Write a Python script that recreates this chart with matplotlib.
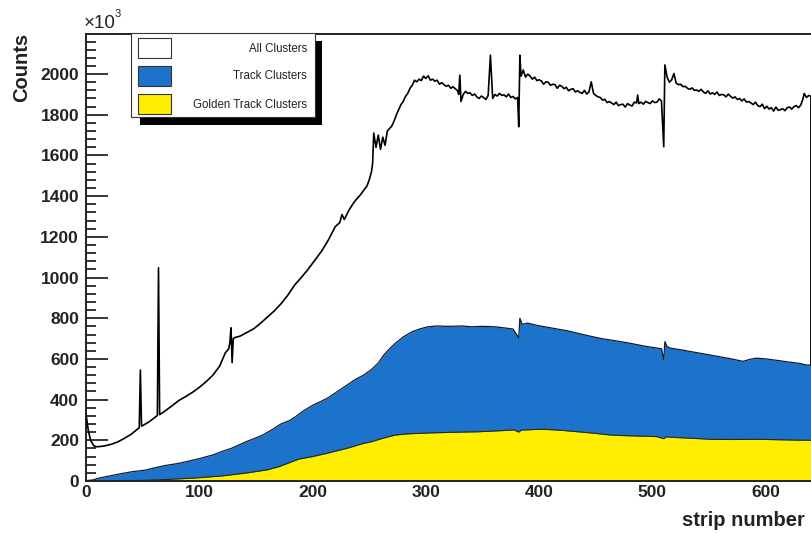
import matplotlib
matplotlib.use("Agg")
import matplotlib.pyplot as plt
from matplotlib.patches import Rectangle
from matplotlib.ticker import MultipleLocator

plt.rcParams["font.family"] = ["Liberation Sans", "DejaVu Sans"]

# ---- cluster counts per strip (units of 10^3) ----
all_strip = [0, 2, 4, 7, 10, 16, 22, 28, 34, 40, 46, 47, 48, 49, 50, 56, 62, 63, 64, 65,
             70, 76, 82, 88, 94, 100, 106, 112, 118, 123, 126, 127, 128, 129, 130, 132,
             136, 142, 148, 154, 160, 166, 172, 178, 184, 190, 196, 202, 208, 214, 220,
             224, 226, 228, 232, 236, 238, 242, 244, 248, 250, 252, 253, 254, 256, 258,
             260, 262, 264, 266, 270, 272, 274, 276, 278, 280, 282, 284, 286, 288,
             290, 292, 294, 296, 298, 300, 302, 304, 306, 308,
             310, 312, 314, 316, 318, 320, 322, 324, 326, 328,
             329, 330, 331,
             333, 335, 337, 339, 341, 343, 345, 347, 349, 351,
             353, 355, 357, 359, 361, 363, 365, 367, 369, 371,
             373, 375, 377, 379, 381,
             382, 383,
             384, 386, 388, 390, 392, 394, 396, 398, 400, 402,
             404, 406, 408, 410, 412, 414, 416, 418, 420, 422,
             424, 426, 428, 430, 432, 434, 436, 438, 440, 442,
             444, 446, 448, 450, 452, 454, 456, 458, 460, 462,
             464, 466, 468, 470, 472, 474, 476, 478, 480, 482,
             484, 486, 487, 488, 490, 492, 494, 496, 498, 500,
             502, 504, 506, 508, 510, 511,
             513, 515, 517, 519, 521, 523, 525, 527, 529, 531,
             533, 535, 537, 539, 541, 543, 545, 547, 549, 551,
             553, 555, 557, 559, 561, 563, 565, 567, 569, 571,
             573, 575, 577, 579, 581, 583, 585, 587, 589, 591,
             593, 595, 597, 599, 601, 603, 605, 607, 609, 611,
             613, 615, 617, 619, 621, 623, 625, 627, 629, 631,
             633, 634, 636, 638, 640]
all_counts = [330, 250, 200, 172, 168, 172, 180, 192, 210, 230, 258, 262, 545, 270, 272, 292,
              318, 322, 1048, 326, 345, 370, 396, 415, 436, 460, 488, 520, 565, 630, 650, 680,
              753, 582, 700, 706, 712, 730, 748, 775, 805, 835, 870, 912, 962, 1000, 1040,
              1085, 1130, 1185, 1250,
              1270, 1310, 1285, 1330, 1365, 1380, 1405, 1420, 1450, 1480, 1520, 1560, 1710,
              1640, 1700, 1630, 1690, 1650, 1720, 1745, 1770, 1800, 1825, 1850, 1865, 1890,
              1905, 1930, 1945,
              1970, 1962, 1975, 1968, 1990, 1978, 1992, 1970, 1975, 1965,
              1970, 1950, 1958, 1948, 1940, 1945, 1930, 1938, 1928, 1918,
              1900, 1995, 1865,
              1900, 1915, 1905, 1908, 1895, 1902, 1888, 1880, 1892, 1885,
              1875, 1895, 2093, 1880, 1900, 1892, 1905, 1895, 1898, 1888,
              1902, 1885, 1890, 1878, 1885,
              1741, 2093,
              1990, 2020, 1985, 2000, 1990, 1975, 1985, 1968, 1972, 1966,
              1950, 1962, 1960, 1945, 1950, 1948, 1930, 1945, 1940, 1928,
              1935, 1918, 1925, 1928, 1912, 1918, 1910, 1905, 1920, 1902,
              1912, 1962, 1905, 1895, 1888, 1885, 1872, 1876, 1860, 1865,
              1858, 1850, 1862, 1845, 1850, 1852, 1838, 1855, 1848, 1843,
              1862, 1858, 1897, 1855, 1862, 1852, 1866, 1860, 1855, 1868,
              1860, 1862, 1878, 1868, 1643, 2045,
              1985, 1960, 1972, 2003, 1955, 1948, 1950, 1938, 1940, 1930,
              1925, 1932, 1920, 1922, 1915, 1925, 1912, 1905, 1918, 1902,
              1908, 1900, 1912, 1895, 1900, 1898, 1888, 1902, 1890, 1882,
              1888, 1875, 1880, 1868, 1878, 1862, 1865, 1858, 1850, 1862,
              1845, 1840, 1852, 1830, 1842, 1828, 1835, 1818, 1838, 1822,
              1825, 1830, 1820, 1835, 1838, 1828, 1840, 1845, 1835, 1848,
              1880, 1905, 1885, 1895, 1890]

track_strip = [0, 6, 12, 20, 30, 40, 53, 60, 70, 83, 90, 100, 112, 120, 129, 140, 150, 156,
               165, 172, 180, 185, 192, 200, 207, 214, 222, 230, 238, 245, 252, 258, 263,
               268, 273, 280, 288, 295, 302, 310, 320, 332, 340, 350, 361, 370, 377, 382,
               383, 385, 390, 398, 405, 415, 425, 434, 445, 455, 463, 472, 482, 493, 502,
               508, 510, 511, 513, 516, 525, 535, 545, 551, 560, 570, 580, 586, 592, 600,
               610, 620, 630, 636, 640]
track_counts = [2, 5, 15, 24, 35, 45, 54, 64, 76, 88, 97, 110, 128, 145, 162, 190, 212, 226,
                255, 280, 298, 316, 345, 372, 390, 410, 440, 470, 500, 520, 548, 580, 620,
                650, 677, 708, 734, 748, 758, 762, 760, 762, 758, 760, 758, 752, 747, 703,
                800, 770, 776, 765, 758, 748, 738, 726, 712, 700, 693, 685, 675, 663, 655,
                650, 595, 685, 660, 653, 645, 635, 625, 619, 610, 600, 588, 598, 604, 600,
                593, 585, 578, 570, 570]

golden_strip = [0, 30, 50, 70, 97, 120, 141, 160, 170, 188, 200, 214, 230, 245, 252, 262,
                273, 285, 302, 320, 346, 365, 378, 382, 384, 395, 405, 420, 434, 448, 463,
                480, 495, 504, 510, 512, 520, 535, 551, 570, 595, 610, 627, 640]
golden_counts = [0, 1, 3, 7, 15, 25, 39, 55, 70, 108, 120, 138, 160, 185, 193, 210, 226,
                 232, 236, 239, 242, 247, 251, 240, 250, 253, 254, 249, 242, 235, 226, 222,
                 220, 218, 208, 217, 214, 210, 205, 204, 205, 203, 201, 200]

assert len(all_strip) == len(all_counts)
assert len(track_strip) == len(track_counts)
assert len(golden_strip) == len(golden_counts)

series_labels = ["All Clusters", "Track Clusters", "Golden Track Clusters"]
x_ticks = [0, 100, 200, 300, 400, 500, 600]

BLUE = "#1d73cc"
YELLOW = "#ffee00"

W, H = 811, 533
fig = plt.figure(figsize=(W / 100, H / 100), dpi=100)
left, right, top, bottom = 86, 811, 34, 481
ax = fig.add_axes([left / W, 1 - bottom / H, (right - left) / W, (bottom - top) / H])

# histograms
ax.fill_between(track_strip, track_counts, 0, color=BLUE, lw=0, zorder=2)
ax.plot(track_strip, track_counts, color="#111a2a", lw=0.9, zorder=2.1)
ax.fill_between(golden_strip, golden_counts, 0, color=YELLOW, lw=0, zorder=2.2)
ax.plot(golden_strip, golden_counts, color="#2a2a10", lw=0.8, zorder=2.3)
ax.plot(all_strip, all_counts, color="black", lw=1.2, zorder=3)
ax.vlines(all_strip[-1], 0, all_counts[-1], color="black", lw=1.3, zorder=1.9)

ax.set_xlim(0, 640)
ax.set_ylim(0, 2197)

ax.set_xticks(x_ticks)
ax.yaxis.set_minor_locator(MultipleLocator(40))
ax.set_yticks(list(range(0, 2001, 200)))
ax.tick_params(axis="y", which="major", direction="in", length=16, width=1.1,
               labelsize=12.5, pad=5)
ax.tick_params(axis="y", which="minor", direction="in", length=7.5, width=1.1)
ax.tick_params(axis="x", which="both", length=0, labelsize=12.5, pad=3)
for lab in ax.get_xticklabels() + ax.get_yticklabels():
    lab.set_fontweight("bold")
    lab.set_color("#222222")

for side in ("left", "bottom", "top"):
    ax.spines[side].set_linewidth(1.4)
    ax.spines[side].set_color("#222222")
ax.spines["right"].set_visible(False)


def fx(px):
    return px / W


def fy(py):
    return 1 - py / H


# axis titles
fig.text(fx(22), fy(33), "Counts", rotation=90, ha="center", va="top",
         fontsize=14.5, fontweight="bold", color="#222222")
fig.text(fx(805), fy(521), "strip number", ha="right", va="center",
         fontsize=14.5, fontweight="bold", color="#222222")
fig.text(fx(84), fy(23), "×10", ha="left", va="center", fontsize=13.5, color="#222222")
fig.text(fx(115), fy(14), "3", ha="left", va="center", fontsize=8, color="#222222")

# legend with drop shadow
fig.patches.append(Rectangle((fx(140), fy(125)), fx(322) - fx(140), fy(41) - fy(125),
                             transform=fig.transFigure, facecolor="black", lw=0, zorder=5))
fig.patches.append(Rectangle((fx(131), fy(117)), fx(315) - fx(131), fy(33) - fy(117),
                             transform=fig.transFigure, facecolor="white",
                             edgecolor="#333333", lw=0.8, zorder=6))
entry_colors = ["white", BLUE, YELLOW]
entry_tops = [38, 66, 94]
for lab, col, t in zip(series_labels, entry_colors, entry_tops):
    fig.patches.append(Rectangle((fx(138), fy(t + 20)), fx(171) - fx(138), fy(t) - fy(t + 20),
                                 transform=fig.transFigure, facecolor=col,
                                 edgecolor="#333333", lw=0.8, zorder=7))
    fig.text(fx(307), fy(t + 10.5), lab, ha="right", va="center", fontsize=8.3,
             color="#222222", zorder=8)

fig.savefig("out.png", dpi=100)
